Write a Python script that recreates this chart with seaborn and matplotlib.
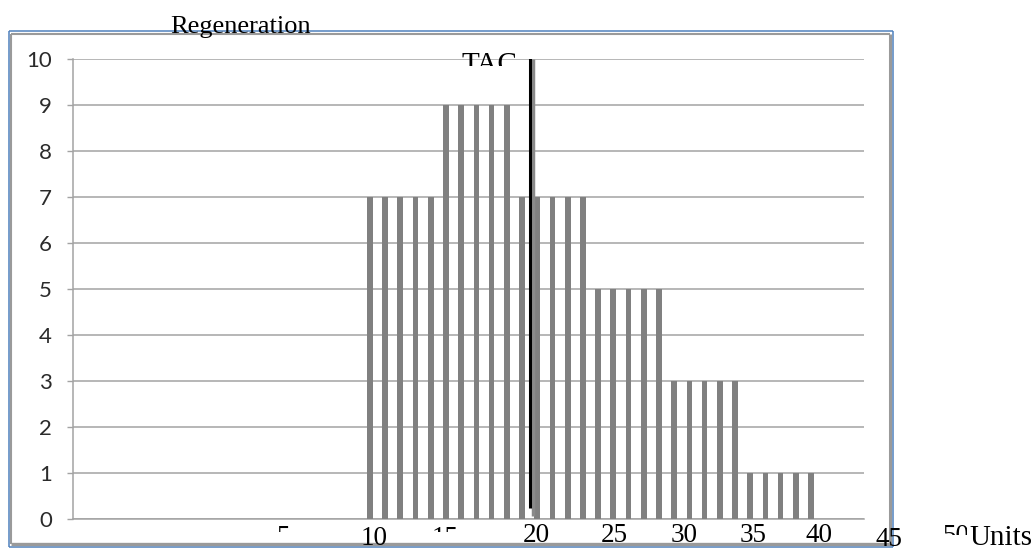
import numpy as np
import matplotlib
matplotlib.use("Agg")
import matplotlib.pyplot as plt
from matplotlib.patches import Rectangle
from matplotlib.lines import Line2D
from matplotlib.transforms import blended_transform_factory
import seaborn as sns

# ---- data -------------------------------------------------------------
units = list(range(10, 40))
counts = [7, 7, 7, 7, 7,
          9, 9, 9, 9, 9,
          7, 7, 7, 7, 7,
          5, 5, 5, 5, 5,
          3, 3, 3, 3, 3,
          1, 1, 1, 1, 1]
tac_value = 20.55
y_ticks = [0, 1, 2, 3, 4, 5, 6, 7, 8, 9, 10]
x_labels = ["5", "10", "15", "20", "25", "30", "35", "40", "45", "50"]

# ---- layout helpers (pixel -> figure fraction) -------------------------
W, H = 1035, 551
def fx(p):
    return p / W
def fy(p):
    return 1 - p / H

sns.set_style("white")
plt.rcParams["font.family"] = ["Lato", "DejaVu Sans"]

fig = plt.figure(figsize=(W / 100, H / 100), dpi=100)
fig.patch.set_facecolor("white")

ax_l, ax_r, ax_t, ax_b = 73.3, 864.3, 59.3, 518.7
ax = fig.add_axes([fx(ax_l), fy(ax_b), (ax_r - ax_l) / W, (ax_b - ax_t) / H])

sns.barplot(x=units, y=counts, native_scale=True, width=0.375,
            color="#808080", saturation=1, linewidth=0, ax=ax, zorder=3)

ax.set_xlim(-9.5, 42.5)
ax.set_ylim(0, 10)
ax.set_yticks(y_ticks)
ax.set_xticks([])
ax.set_xlabel("")
ax.set_ylabel("")
ax.yaxis.grid(True, color="#a3a3a3", linewidth=1.1)
ax.set_axisbelow(True)
for side in ("top", "right"):
    ax.spines[side].set_visible(False)
for side in ("left", "bottom"):
    ax.spines[side].set_color("#a3a3a3")
    ax.spines[side].set_linewidth(1.1)
ax.tick_params(axis="y", direction="out", length=4.4, width=1.0,
               color="#a3a3a3", pad=11, labelsize=16, labelcolor="#2b2b2b",
               left=True)

# TAC marker line with its grey shadow
ax.plot([tac_value + 0.2, tac_value + 0.2], [0.05, 10.0],
        color="#8a8a8a", linewidth=2.5, zorder=4, solid_capstyle="butt")
ax.plot([tac_value, tac_value], [0.23, 10.09],
        color="black", linewidth=2.2, zorder=5, solid_capstyle="butt")

# ---- frame ------------------------------------------------------------
def fline(x0, y0, x1, y1, color, lw, z=10):
    fig.add_artist(Line2D([fx(x0), fx(x1)], [fy(y0), fy(y1)],
                          transform=fig.transFigure, color=color,
                          linewidth=lw, zorder=z, solid_capstyle="butt"))

blue = "#4f81bd"
grey = "#9a9a9a"
fline(8.5, 30.8, 892.6, 30.8, blue, 1.1)
fline(8.5, 30.8, 8.5, 547.2, blue, 1.1)
fline(892.6, 30.8, 892.6, 547.2, blue, 1.1)
fline(8.5, 547.2, 892.6, 547.2, blue, 1.1)
fline(11, 33.7, 890, 33.7, grey, 1.5)
fline(11, 33.7, 11, 544, grey, 1.5)
fline(890, 33.7, 890, 544, grey, 2.2)
fline(11, 543.8, 890, 543.8, grey, 2.4)

# ---- texts ------------------------------------------------------------
serif = ["Liberation Serif", "DejaVu Serif"]

fig.text(fx(170), fy(32.5), "Regeneration", family=serif, fontsize=19,
         ha="left", va="baseline", color="black", zorder=20)

def clip_rect(x0, y0, x1, y1):
    return Rectangle((fx(x0), fy(y1)), (x1 - x0) / W, (y1 - y0) / H,
                     transform=fig.transFigure)

tac = fig.text(fx(461.7), fy(72), "TAC", family=serif, fontsize=21,
               ha="left", va="baseline", color="black", zorder=20)
tac.set_clip_path(clip_rect(440, 0, 560, 66))

bt = blended_transform_factory(ax.transData, fig.transFigure)
label_x = [4.29, 10.27, 14.94, 20.92, 26.08, 30.68, 35.19, 39.5, 44.13, 48.5]
label_base = [544, 545, 545, 542.5, 542.5, 542.5, 542.5, 542.5, 546, 543]
label_clip = {"5": (200, 0, 400, 532),
              "15": (400, 0, 500, 532),
              "50": (900, 0, 967, 535)}
for txt, xv, base in zip(x_labels, label_x, label_base):
    t = fig.text(xv, fy(base), txt, transform=bt, family=serif, fontsize=19.5,
                 ha="center", va="baseline", color="black", zorder=20)
    if txt in label_clip:
        t.set_clip_path(clip_rect(*label_clip[txt]))

fig.text(fx(969), fy(545), "Units", family=serif, fontsize=21,
         ha="left", va="baseline", color="black", zorder=20)

fig.savefig("out.png", dpi=100, facecolor="white")
